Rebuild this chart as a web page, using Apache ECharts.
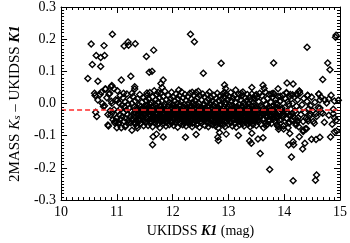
<!DOCTYPE html>
<html>
<head>
<meta charset="utf-8">
<script src="https://cdn.jsdelivr.net/npm/echarts@6/dist/echarts.min.js"></script>
<style>html,body{margin:0;padding:0;background:#fff}#c{width:350px;height:243px}</style>
</head>
<body>
<div id="c"></div>
<script>
// Axis ticks
const xTicks = [10, 11, 12, 13, 14, 15];
const yTicks = [-0.3, -0.2, -0.1, 0.0, 0.1, 0.2, 0.3];
// Mean offset (red dashed line)
const meanOffset = -0.021;

// [UKIDSS K1 (mag), 2MASS Ks - UKIDSS K1]
const highOutliers = [
[10.92,0.215],[10.54,0.185],[10.77,0.180],[11.20,0.191],[11.13,0.179],[11.21,0.181],[11.33,0.186],
[10.63,0.149],[10.71,0.143],[10.78,0.149],[10.56,0.121],[10.71,0.115],[11.53,0.146],[11.66,0.166],
[11.58,0.097],[11.63,0.100],[11.25,0.085],[10.48,0.078],[10.66,0.069],[11.08,0.073],[10.91,0.056],
[10.95,0.046],[11.01,0.040],[11.32,0.052],[11.32,0.045],[10.80,0.045],[10.60,0.032],[10.72,0.035],
[10.87,0.032],[11.12,0.032],[11.27,0.032],[11.54,0.033],[12.32,0.215],[12.39,0.192],[12.87,0.125],
[12.55,0.094],[11.83,0.073],[11.79,0.062],[11.81,0.050],[11.74,0.035],[12.11,0.042],[12.35,0.035],
[12.46,0.038],[12.93,0.058],[12.95,0.047],[12.93,0.035],[13.13,0.042],[13.23,0.032],[14.92,0.206],
[14.93,0.212],[14.41,0.175],[13.81,0.126],[14.78,0.126],[14.82,0.105],[14.69,0.075],[13.42,0.050],
[13.62,0.057],[13.64,0.047],[13.89,0.046],[14.05,0.064],[14.16,0.061],[14.04,0.034],[14.27,0.038],
[14.22,0.030],[14.62,0.030],[13.80,0.032],[13.77,0.030],[13.50,0.028],[14.42,0.026],[10.90,0.052],
[10.79,0.045],[10.86,0.029],[10.61,0.025]
];

const lowOutliers = [
[10.84,-0.067],[10.99,-0.057],[11.08,-0.075],[11.15,-0.072],[11.27,-0.083],[11.37,-0.076],[11.21,-0.060],
[11.32,-0.063],[11.40,-0.055],[11.48,-0.069],[11.65,-0.103],[11.64,-0.128],[11.71,-0.095],[11.83,-0.104],
[12.23,-0.105],[12.42,-0.096],[12.81,-0.105],[12.82,-0.115],[12.96,-0.095],[13.18,-0.099],[12.84,-0.090],
[13.42,-0.092],[13.38,-0.116],[13.41,-0.123],[13.53,-0.110],[13.62,-0.106],[13.57,-0.155],[13.74,-0.205],
[14.08,-0.129],[14.16,-0.119],[14.17,-0.128],[14.13,-0.166],[14.16,-0.240],[14.10,-0.093],[14.33,-0.141],
[14.37,-0.123],[14.27,-0.103],[14.34,-0.087],[14.40,-0.078],[14.49,-0.111],[14.57,-0.112],[14.64,-0.105],
[14.58,-0.222],[14.56,-0.238],[14.83,-0.104],[14.90,-0.088],[14.94,-0.085],[13.88,-0.070],[13.99,-0.070],
[13.99,-0.079],[14.10,-0.059],[14.21,-0.067],[13.63,-0.075],[13.67,-0.069],[13.70,-0.064],[13.72,-0.054],
[14.54,-0.061],[13.36,-0.054],[13.50,-0.051],[14.25,-0.054],[14.43,-0.054],[10.85,-0.070],[11.00,-0.075],
[11.04,-0.059],[10.97,-0.055]
];

const faintEnd = [
[14.04,0.032],[14.10,0.022],[14.15,0.027],[14.23,0.027],[14.27,0.039],[14.42,0.025],[14.62,0.030],
[14.64,0.011],[14.73,0.011],[14.47,-0.007],[14.90,0.008],[14.90,-0.044],[14.42,-0.049],[14.47,-0.032],
[14.52,-0.056],[14.26,-0.072],[14.34,-0.083],[14.38,-0.078],[14.23,-0.055],[13.99,-0.069],[14.07,-0.075],
[13.90,-0.072],[13.90,-0.080],[14.19,-0.044],[14.15,-0.030],[14.08,-0.001],[14.04,-0.029],[13.99,-0.024],
[14.05,-0.047],[14.12,-0.039],[13.78,-0.009],[13.85,0.001],[13.92,0.007],[13.93,0.023],[13.88,-0.013],
[13.81,-0.033],[13.87,-0.039],[14.64,-0.014],[14.66,-0.027],[14.57,-0.032],[14.80,0.014],[14.88,-0.032],
[14.86,-0.064],
[14.01,-0.012],[14.02,0.016],[14.04,-0.046],[14.05,-0.026],[14.06,0.006],[14.08,-0.060],[14.09,-0.036],
[14.11,0.028],[14.12,-0.018],[14.13,-0.052],[14.15,0.000],[14.16,-0.040],[14.18,0.020],[14.19,-0.024],
[14.21,-0.062],[14.22,-0.008],[14.24,0.012],[14.25,-0.044],[14.27,-0.020],[14.28,0.032],[14.30,-0.034],
[14.32,-0.004],[14.34,-0.056],[14.35,0.016],[14.37,-0.028],[14.39,-0.046],[14.41,0.006],[14.44,-0.016],
[14.46,-0.038],[14.49,0.020],[14.51,-0.022],[14.55,0.004],[14.58,-0.040],[14.61,-0.012],[14.66,0.020],
[14.69,-0.030],[14.72,-0.058],[14.76,0.002],[14.80,-0.036],[14.84,0.026],[14.88,-0.018],[14.93,-0.052],
[14.97,0.010]
];

const brightEnd = [
[10.62,-0.027],[10.66,0.011],[10.76,-0.009],[10.78,-0.007],[10.90,0.007],[10.91,0.001],[10.89,-0.035],
[10.92,-0.028],[10.95,-0.019],[10.99,-0.045],[10.64,-0.040],[10.70,0.028],[10.74,0.000],[10.82,0.018],
[10.84,-0.034],[10.88,-0.022],[10.93,-0.050],[10.96,-0.060],[10.98,0.012],
[11.00,-0.045],[11.01,0.010],[11.02,-0.025],[11.03,-0.062],[11.04,0.002],[11.05,-0.035],[11.06,0.025],
[11.06,-0.050],[11.07,-0.015],[11.09,-0.005],[11.10,-0.040],[11.11,0.018],[11.12,-0.028],[11.13,-0.055],
[11.14,-0.010],[11.15,0.005],[11.15,-0.045],[11.16,-0.068],[11.17,-0.020],[11.18,0.030],[11.19,-0.035],
[11.20,-0.002],[11.21,-0.052],[11.22,-0.015],[11.23,0.012],[11.24,-0.040],[11.25,-0.060],[11.26,-0.025],
[11.27,0.000],[11.28,-0.048],[11.29,0.022],[11.30,-0.032],[11.31,-0.010],[11.32,-0.058],[11.33,0.008],
[11.34,-0.042],[11.35,-0.020],[11.36,-0.070],[11.37,0.015],[11.38,-0.030],[11.39,-0.050],[11.40,-0.005],
[11.41,0.028],[11.42,-0.038],[11.43,-0.062],[11.44,-0.018],[11.45,0.004],[11.46,-0.045],[11.47,-0.028],
[11.48,0.018],[11.49,-0.055],[11.50,-0.010]
];

const coreBand = [
[11.51,-0.032],[11.52,0.010],[11.52,-0.058],[11.53,-0.020],[11.54,0.025],[11.54,-0.044],[11.55,-0.005],[11.56,-0.068],[11.56,-0.028],[11.57,0.015],[11.58,-0.050],[11.58,-0.012],[11.59,0.034],[11.60,-0.038],[11.60,-0.062],
[11.61,-0.018],[11.62,0.002],[11.62,-0.045],[11.63,-0.030],[11.64,0.020],[11.64,-0.072],[11.65,-0.008],[11.66,-0.052],[11.66,-0.025],[11.67,0.040],[11.68,-0.040],[11.68,-0.002],[11.69,-0.060],[11.70,0.012],[11.70,-0.034],
[11.71,-0.048],[11.72,-0.015],[11.72,0.028],[11.73,-0.065],[11.74,-0.030],[11.74,0.005],[11.75,-0.042],[11.76,-0.020],[11.76,0.018],[11.77,-0.075],[11.78,-0.036],[11.78,-0.008],[11.79,0.032],[11.80,-0.055],[11.80,-0.024],
[11.81,0.008],[11.82,-0.046],[11.82,-0.014],[11.83,0.022],[11.84,-0.062],[11.84,-0.032],[11.85,-0.002],[11.86,-0.050],[11.86,0.038],[11.87,-0.020],[11.88,-0.070],[11.88,-0.040],[11.89,0.012],[11.90,-0.028],[11.90,-0.056],
[11.91,-0.010],[11.92,0.026],[11.92,-0.044],[11.93,-0.022],[11.94,-0.066],[11.94,0.004],[11.95,-0.036],[11.96,0.016],[11.96,-0.054],[11.97,-0.016],[11.98,-0.030],[11.98,0.035],[11.99,-0.060],[12.00,-0.004],[12.00,-0.042],
[12.01,0.020],[12.02,-0.026],[12.02,-0.068],[12.03,-0.012],[12.04,0.008],[12.04,-0.048],[12.05,-0.034],[12.06,0.030],[12.06,-0.058],[12.07,-0.018],[12.08,-0.040],[12.08,0.000],[12.09,-0.074],[12.10,0.014],[12.10,-0.030],
[12.11,-0.050],[12.12,-0.008],[12.12,0.024],[12.13,-0.038],[12.14,-0.062],[12.14,-0.020],[12.15,0.006],[12.16,-0.044],[12.16,0.036],[12.17,-0.028],[12.18,-0.066],[12.18,-0.012],[12.19,0.018],[12.20,-0.052],[12.20,-0.034],
[12.21,-0.002],[12.22,0.028],[12.22,-0.046],[12.23,-0.024],[12.24,-0.070],[12.24,0.010],[12.25,-0.036],[12.26,-0.014],[12.26,-0.056],[12.27,0.022],[12.28,-0.030],[12.28,-0.042],[12.29,0.002],[12.30,-0.064],[12.30,-0.018],
[12.31,0.032],[12.32,-0.040],[12.32,-0.008],[12.33,-0.054],[12.34,0.014],[12.34,-0.026],[12.35,-0.072],[12.36,-0.034],[12.36,0.004],[12.37,-0.048],[12.38,0.026],[12.38,-0.016],[12.39,-0.060],[12.40,-0.030],[12.40,0.010],
[12.41,-0.044],[12.42,-0.020],[12.42,0.034],[12.43,-0.066],[12.44,-0.006],[12.44,-0.038],[12.45,0.018],[12.46,-0.052],[12.46,-0.024],[12.47,0.000],[12.48,-0.074],[12.48,-0.034],[12.49,0.024],[12.50,-0.012],[12.50,-0.046],
[12.51,-0.028],[12.52,0.012],[12.52,-0.060],[12.53,-0.018],[12.54,-0.040],[12.54,0.030],[12.55,-0.004],[12.56,-0.054],[12.56,-0.032],[12.57,0.020],[12.58,-0.068],[12.58,-0.014],[12.59,-0.044],[12.60,0.006],[12.60,-0.026],
[12.61,-0.058],[12.62,0.028],[12.62,-0.036],[12.63,-0.010],[12.64,-0.072],[12.64,0.014],[12.65,-0.046],[12.66,-0.022],[12.66,0.036],[12.67,-0.062],[12.68,-0.002],[12.68,-0.032],[12.69,0.018],[12.70,-0.050],[12.70,-0.016],
[12.71,0.008],[12.72,-0.040],[12.72,-0.066],[12.73,-0.024],[12.74,0.026],[12.74,-0.008],[12.75,-0.054],[12.76,-0.030],[12.76,0.002],[12.77,-0.070],[12.78,-0.042],[12.78,0.016],[12.79,-0.018],[12.80,-0.058],[12.80,0.032],
[12.81,-0.034],[12.82,-0.012],[12.82,-0.076],[12.83,0.010],[12.84,-0.048],[12.84,-0.026],[12.85,0.024],[12.86,-0.062],[12.86,-0.004],[12.87,-0.038],[12.88,0.014],[12.88,-0.020],[12.89,-0.052],[12.90,0.030],[12.90,-0.032],
[12.91,-0.066],[12.92,-0.010],[12.92,0.020],[12.93,-0.044],[12.94,-0.028],[12.94,-0.072],[12.95,0.004],[12.96,-0.036],[12.96,0.028],[12.97,-0.056],[12.98,-0.016],[12.98,-0.040],[12.99,0.012],[13.00,-0.064],[13.00,-0.024],
[13.01,0.022],[13.02,-0.046],[13.02,-0.006],[13.03,-0.030],[13.04,0.034],[13.04,-0.060],[13.05,-0.018],[13.06,0.008],[13.06,-0.040],[13.07,-0.070],[13.08,-0.026],[13.08,0.018],[13.09,-0.052],[13.10,-0.010],[13.10,-0.034],
[13.11,0.026],[13.12,-0.062],[13.12,-0.022],[13.13,0.004],[13.14,-0.044],[13.14,-0.074],[13.15,-0.012],[13.16,0.016],[13.16,-0.036],[13.17,-0.056],[13.18,0.030],[13.18,-0.028],[13.19,-0.004],[13.20,-0.048],[13.20,-0.066],
[13.21,-0.016],[13.22,0.012],[13.22,-0.040],[13.23,-0.060],[13.24,0.024],[13.24,-0.026],[13.25,-0.008],[13.26,-0.052],[13.26,0.036],[13.27,-0.032],[13.28,-0.070],[13.28,0.002],[13.29,-0.044],[13.30,-0.020],[13.30,0.018],
[13.31,-0.058],[13.32,-0.030],[13.32,0.008],[13.33,-0.046],[13.34,0.028],[13.34,-0.014],[13.35,-0.064],[13.36,-0.036],[13.36,0.000],[13.37,-0.052],[13.38,0.020],[13.38,-0.024],[13.39,-0.072],[13.40,-0.040],[13.40,0.012],
[13.41,-0.006],[13.42,-0.050],[13.42,0.030],[13.43,-0.028],[13.44,-0.066],[13.44,0.004],[13.45,-0.038],[13.46,0.016],[13.46,-0.018],[13.47,-0.056],[13.48,-0.032],[13.48,0.024],[13.49,-0.044],[13.50,-0.010],[13.50,-0.068],
[13.51,0.018],[13.52,-0.030],[13.53,-0.052],[13.54,0.006],[13.55,-0.020],[13.56,0.032],[13.57,-0.042],[13.58,-0.064],[13.59,-0.008],[13.60,0.024],[13.61,-0.034],[13.62,-0.016],[13.63,0.010],[13.64,-0.048],[13.65,-0.026],
[13.66,0.036],[13.67,-0.060],[13.68,-0.004],[13.69,-0.038],[13.70,0.016],[13.71,-0.022],[13.72,-0.050],[13.73,0.028],[13.74,-0.012],[13.75,-0.036],[13.76,0.004],[13.77,-0.062],[13.78,-0.028],[13.79,0.020],[13.80,-0.044],
[13.81,-0.006],[13.82,0.030],[13.83,-0.054],[13.84,-0.018],[13.85,0.012],[13.86,-0.034],[13.87,-0.066],[13.88,-0.002],[13.89,0.022],[13.90,-0.040],[13.92,-0.024],[13.93,0.008],[13.95,-0.050],[13.96,-0.014],[13.98,0.026],[13.99,-0.032]
];

const coreDense = [
[11.305,-0.041],[11.318,-0.027],[11.344,-0.053],[11.357,-0.012],[11.372,-0.036],[11.389,-0.021],[11.405,-0.047],[11.418,-0.031],[11.433,-0.009],[11.451,-0.039],[11.466,-0.017],[11.482,-0.051],[11.497,-0.033],
[11.512,-0.019],[11.525,-0.043],[11.533,-0.007],[11.548,-0.029],[11.561,-0.047],[11.574,-0.023],[11.586,-0.035],[11.597,-0.003],[11.611,-0.055],[11.623,-0.027],[11.637,-0.041],[11.645,-0.013],[11.659,-0.037],[11.671,-0.021],[11.684,-0.049],[11.693,-0.029],[11.707,-0.007],
[11.715,-0.033],[11.728,-0.045],[11.739,-0.019],[11.751,-0.061],[11.763,-0.035],[11.775,-0.011],[11.787,-0.027],[11.795,-0.047],[11.806,-0.039],[11.818,-0.019],[11.829,-0.053],[11.837,-0.031],[11.849,-0.009],[11.858,-0.043],[11.871,-0.025],
[11.883,-0.057],[11.894,-0.015],[11.905,-0.037],[11.917,-0.049],[11.926,-0.023],[11.938,-0.005],[11.947,-0.041],[11.959,-0.029],[11.968,-0.059],[11.977,-0.037],[11.989,-0.013],[11.996,-0.025],
[12.007,-0.047],[12.016,-0.033],[12.028,-0.005],[12.035,-0.021],[12.047,-0.059],[12.056,-0.041],[12.064,-0.015],[12.077,-0.029],[12.085,-0.053],[12.093,-0.035],[12.104,-0.019],[12.116,-0.043],[12.127,-0.027],[12.135,-0.003],[12.148,-0.037],
[12.157,-0.055],[12.169,-0.021],[12.176,-0.045],[12.188,-0.031],[12.196,-0.011],[12.207,-0.039],[12.215,-0.061],[12.226,-0.029],[12.238,-0.017],[12.245,-0.049],[12.257,-0.035],[12.266,-0.003],[12.274,-0.043],[12.287,-0.023],[12.295,-0.057],
[12.303,-0.037],[12.315,-0.013],[12.326,-0.029],[12.337,-0.045],[12.345,-0.019],[12.353,-0.061],[12.366,-0.039],[12.374,-0.025],[12.385,-0.005],[12.397,-0.051],[12.404,-0.033],[12.416,-0.015],[12.427,-0.041],[12.435,-0.027],[12.447,-0.063],
[12.456,-0.037],[12.465,-0.009],[12.477,-0.047],[12.486,-0.021],[12.494,-0.031],
[12.505,-0.055],[12.517,-0.039],[12.526,-0.013],[12.534,-0.029],[12.546,-0.047],[12.557,-0.021],[12.565,-0.037],[12.573,-0.003],[12.587,-0.051],[12.595,-0.033],[12.606,-0.017],[12.615,-0.043],[12.624,-0.027],[12.637,-0.059],[12.645,-0.035],
[12.656,-0.009],[12.667,-0.041],[12.674,-0.023],[12.686,-0.053],[12.695,-0.031],[12.707,-0.015],[12.714,-0.047],[12.726,-0.037],[12.735,-0.005],[12.743,-0.027],[12.757,-0.061],[12.766,-0.043],[12.774,-0.019],[12.785,-0.031],[12.796,-0.049],
[12.805,-0.013],[12.816,-0.039],[12.825,-0.025],[12.837,-0.057],[12.846,-0.033],[12.855,-0.007],[12.864,-0.045],[12.876,-0.021],[12.885,-0.035],[12.894,-0.063],[12.906,-0.041],[12.915,-0.017],[12.927,-0.029],[12.936,-0.051],[12.944,-0.003],
[12.957,-0.037],[12.965,-0.023],[12.977,-0.045],[12.986,-0.031],[12.995,-0.011],
[13.006,-0.049],[13.015,-0.035],[13.027,-0.019],[13.036,-0.057],[13.044,-0.041],[13.056,-0.027],[13.067,-0.005],[13.075,-0.033],[13.086,-0.047],[13.095,-0.015],[13.104,-0.061],[13.117,-0.039],[13.125,-0.023],[13.134,-0.031],[13.146,-0.051],
[13.155,-0.009],[13.166,-0.043],[13.174,-0.027],[13.186,-0.037],[13.195,-0.017],[13.206,-0.055],[13.214,-0.033],[13.227,-0.011],[13.236,-0.045],[13.245,-0.029],[13.257,-0.063],[13.266,-0.019],[13.274,-0.039],[13.285,-0.053],[13.296,-0.025],
[13.305,-0.003],[13.316,-0.041],[13.325,-0.033],[13.337,-0.021],[13.346,-0.049],[13.355,-0.037],[13.367,-0.013],[13.376,-0.059],[13.385,-0.031],[13.396,-0.045],[13.404,-0.019],[13.417,-0.035],[13.426,-0.055],[13.435,-0.023],[13.447,-0.043],
[13.456,-0.007],[13.465,-0.029],[13.477,-0.051],[13.486,-0.039],[13.495,-0.015],
[13.507,-0.041],[13.525,-0.019],[13.546,-0.057],[13.567,-0.029],[13.585,-0.037],[13.607,-0.011],[13.626,-0.047],[13.645,-0.033],[13.667,-0.021],[13.686,-0.043],[13.705,-0.031],[13.727,-0.009],[13.746,-0.053],[13.765,-0.023],[13.787,-0.037],
[13.806,-0.049],[13.826,-0.025],[13.847,-0.013],[13.866,-0.045],[13.895,-0.029],[13.915,-0.051],[13.946,-0.019],[13.975,-0.041]
];

const allPoints = [].concat(highOutliers, lowOutliers, faintEnd, brightEnd, coreBand, coreDense);

const serif = 'Liberation Serif';
function axisBase() {
  return {
    z: 10,
    axisLine: { show: true, onZero: false, lineStyle: { color: '#000', width: 1 } },
    axisTick: { show: true, inside: true, length: 6, lineStyle: { color: '#000', width: 1 } },
    minorTick: { show: true, splitNumber: 10, length: 3, lineStyle: { color: '#000', width: 1 } },
    splitLine: { show: false },
    minorSplitLine: { show: false }
  };
}

const chart = echarts.init(document.getElementById('c'));
chart.setOption({
  animation: false,
  backgroundColor: '#fff',
  hoverLayerThreshold: Infinity,
  grid: { left: 45, right: 5, top: 3, bottom: 39 },
  xAxis: [
    Object.assign(axisBase(), {
      type: 'value', position: 'bottom', min: xTicks[0], max: xTicks[xTicks.length - 1], interval: 1,
      axisLabel: { show: true, color: '#000', fontFamily: serif, fontSize: 14, margin: 5 },
      name: '{r|UKIDSS }{b|K1}{r| (mag)}', nameLocation: 'middle', nameGap: 17,
      nameTextStyle: { verticalAlign: 'top', rich: {
        r: { fontFamily: serif, fontSize: 14, color: '#000' },
        b: { fontFamily: serif, fontSize: 14, color: '#000', fontStyle: 'italic', fontWeight: 'bold' }
      } }
    }),
    Object.assign(axisBase(), {
      type: 'value', position: 'top', min: xTicks[0], max: xTicks[xTicks.length - 1], interval: 1,
      axisLabel: { show: false }
    })
  ],
  yAxis: [
    Object.assign(axisBase(), {
      type: 'value', position: 'left', min: yTicks[0], max: yTicks[yTicks.length - 1], interval: 0.1,
      axisLabel: { show: true, color: '#000', fontFamily: serif, fontSize: 14, margin: 5,
        formatter: function (v) { return v.toFixed(1); } },
      name: '{r|2MASS }{i|K}{s|s}{r| – UKIDSS }{b|K1}', nameLocation: 'middle', nameGap: 27, nameRotate: 90,
      nameTextStyle: { rich: {
        r: { fontFamily: serif, fontSize: 15, color: '#000' },
        i: { fontFamily: serif, fontSize: 15, color: '#000', fontStyle: 'italic' },
        s: { fontFamily: serif, fontSize: 11, color: '#000', fontStyle: 'italic', padding: [4, 0, 0, 0] },
        b: { fontFamily: serif, fontSize: 15, color: '#000', fontStyle: 'italic', fontWeight: 'bold' }
      } }
    }),
    Object.assign(axisBase(), {
      type: 'value', position: 'right', min: yTicks[0], max: yTicks[yTicks.length - 1], interval: 0.1,
      axisLabel: { show: false }
    })
  ],
  series: [{
    type: 'scatter',
    data: allPoints,
    symbol: 'diamond',
    symbolSize: 6,
    progressive: 0,
    large: false,
    itemStyle: { color: 'rgba(255,255,255,0)', borderColor: '#000', borderWidth: 1.4, opacity: 1 },
    markLine: {
      silent: true, symbol: 'none', label: { show: false },
      lineStyle: { color: '#ff2a2a', type: [5, 3], width: 1.5, opacity: 1 },
      data: [{ yAxis: meanOffset }]
    }
  }]
});
</script>
</body>
</html>
